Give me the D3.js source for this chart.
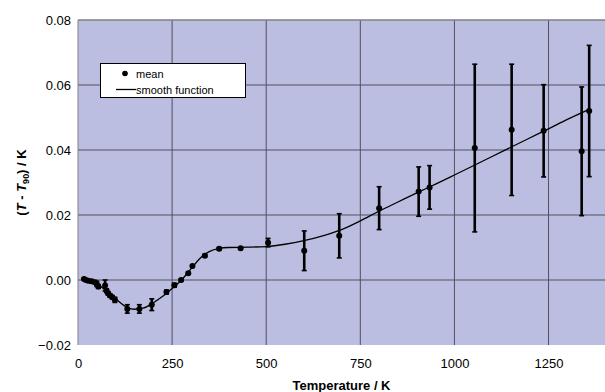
<!DOCTYPE html>
<html><head><meta charset="utf-8">
<script src="https://cdn.jsdelivr.net/npm/d3@7"></script>
<style>
body{margin:0;background:#fff;}
text{font-family:Arial,"Liberation Sans",sans-serif;}
</style></head>
<body>
<svg id="chart" width="605" height="392"></svg>
<script>
// mean points: temperature (K), deviation (K), uncertainty (K)
const meanT = [16, 21, 27, 36, 45, 50, 54, 72, 76, 80, 85, 91, 98, 131, 163, 196, 235, 256, 274, 293, 304, 337, 375, 432, 505, 601, 694, 800, 905, 934, 1054, 1152, 1237, 1338, 1358];
const meanV = [0.0003, 0.0000, -0.0002, -0.0004, -0.0007, -0.0012, -0.0020, -0.0017, -0.0033, -0.0041, -0.0048, -0.0053, -0.0061, -0.0089, -0.0089, -0.0076, -0.0037, -0.0016, 0.0000, 0.0021, 0.0043, 0.0075, 0.0096, 0.0098, 0.0115, 0.0090, 0.0136, 0.0221, 0.0272, 0.0285, 0.0406, 0.0462, 0.0459, 0.0396, 0.0520];
const meanErr = [0.0003, 0.0003, 0.0003, 0.0005, 0.0005, 0.0008, 0.0006, 0.0017, 0.0006, 0.0005, 0.0005, 0.0005, 0.0008, 0.0013, 0.0013, 0.0018, 0.0006, 0.0006, 0.0003, 0.0003, 0.0003, 0.0004, 0.0004, 0.0004, 0.0013, 0.0061, 0.0068, 0.0066, 0.0076, 0.0067, 0.0258, 0.0202, 0.0142, 0.0198, 0.0202];
// smooth function
const smoothT = [12, 50, 100, 130, 150, 175, 200, 225, 250, 275, 300, 325, 350, 375, 400, 450, 500, 550, 600, 650, 700, 750, 800, 850, 900, 950, 1000, 1100, 1200, 1250, 1300, 1358];
const smoothV = [0.0005, -0.0012, -0.0058, -0.0084, -0.0090, -0.0086, -0.0070, -0.0050, -0.0026, 0.0000, 0.0034, 0.0068, 0.0088, 0.0097, 0.0100, 0.0101, 0.0103, 0.0110, 0.0121, 0.0136, 0.0155, 0.0182, 0.0212, 0.0240, 0.0268, 0.0295, 0.0323, 0.0380, 0.0437, 0.0465, 0.0494, 0.0525];
const xTicks = [0, 250, 500, 750, 1000, 1250];
const yTicks = [-0.02, 0.00, 0.02, 0.04, 0.06, 0.08];

const svg = d3.select("#chart");
const L = 78, R = 605, T = 20, B = 345;
const x = d3.scaleLinear().domain([0, 1400]).range([L, R]);
const y = d3.scaleLinear().domain([-0.02, 0.08]).range([B, T]);

svg.append("rect").attr("x", L).attr("y", T).attr("width", R - L).attr("height", B - T)
  .attr("fill", "#bbbee0");

// grid
svg.append("g").selectAll("line").data(yTicks.slice(1)).join("line")
  .attr("x1", L).attr("x2", R).attr("y1", d => y(d)).attr("y2", d => y(d))
  .attr("stroke", "#50505e").attr("stroke-width", 1);
svg.append("g").selectAll("line").data(xTicks.slice(1)).join("line")
  .attr("y1", T).attr("y2", B).attr("x1", d => x(d)).attr("x2", d => x(d))
  .attr("stroke", "#50505e").attr("stroke-width", 1);
// border
svg.append("line").attr("x1", L).attr("x2", L).attr("y1", T).attr("y2", B).attr("stroke", "#808080");
svg.append("line").attr("x1", L).attr("x2", R).attr("y1", T).attr("y2", T).attr("stroke", "#999");

// axes labels using d3 axes
const xAxis = d3.axisBottom(x).tickValues(xTicks).tickSize(0).tickPadding(14).tickFormat(d3.format("d"));
const gx = svg.append("g").attr("transform", `translate(0,${B})`).call(xAxis);
gx.select(".domain").remove();
gx.selectAll("text").attr("font-size", 13).attr("fill", "#000").style("font-family", "Arial, 'Liberation Sans', sans-serif");

const yAxis = d3.axisLeft(y).tickValues(yTicks).tickSize(0).tickPadding(7).tickFormat(d3.format(".2f"));
const gy = svg.append("g").attr("transform", `translate(${L},0)`).call(yAxis);
gy.select(".domain").remove();
gy.selectAll("text").attr("font-size", 13).attr("fill", "#000").style("font-family", "Arial, 'Liberation Sans', sans-serif");

// smooth line
const pts = smoothT.map((t, i) => [t, smoothV[i]]);
svg.append("path").datum(pts)
  .attr("d", d3.line().x(d => x(d[0])).y(d => y(d[1])).curve(d3.curveMonotoneX))
  .attr("fill", "none").attr("stroke", "#000").attr("stroke-width", 1.3);

// error bars
const data = meanT.map((t, i) => ({t, v: meanV[i], e: meanErr[i]}));
const eb = svg.append("g");
eb.selectAll(".v").data(data).join("line")
  .attr("x1", d => x(d.t)).attr("x2", d => x(d.t))
  .attr("y1", d => y(d.v - d.e)).attr("y2", d => y(d.v + d.e))
  .attr("stroke", "#000").attr("stroke-width", 2.6);
["lo", "hi"].forEach(k => {
  eb.selectAll(".c" + k).data(data).join("line")
    .attr("x1", d => x(d.t) - 2.5).attr("x2", d => x(d.t) + 2.5)
    .attr("y1", d => y(k === "lo" ? d.v - d.e : d.v + d.e))
    .attr("y2", d => y(k === "lo" ? d.v - d.e : d.v + d.e))
    .attr("stroke", "#000").attr("stroke-width", 1.6);
});
svg.append("g").selectAll("circle").data(data).join("circle")
  .attr("cx", d => x(d.t)).attr("cy", d => y(d.v)).attr("r", 3).attr("fill", "#000");

// legend
const lg = svg.append("g");
lg.append("rect").attr("x", 100.5).attr("y", 63.5).attr("width", 145).attr("height", 34)
  .attr("fill", "#fff").attr("stroke", "#000").attr("stroke-width", 1);
lg.append("circle").attr("cx", 125).attr("cy", 73.5).attr("r", 2.8).attr("fill", "#000");
lg.append("text").attr("x", 136).attr("y", 77.5).attr("font-size", 11).text("mean");
lg.append("line").attr("x1", 116).attr("x2", 136).attr("y1", 89.5).attr("y2", 89.5).attr("stroke", "#000").attr("stroke-width", 1.3);
lg.append("text").attr("x", 136).attr("y", 93.5).attr("font-size", 11).text("smooth function");

// axis titles
svg.append("text").attr("x", (L + R) / 2).attr("y", 390).attr("text-anchor", "middle")
  .attr("font-size", 13).attr("font-weight", "bold").text("Temperature / K");
const yt = svg.append("text").attr("transform", `translate(26,${(T + B) / 2}) rotate(-90)`)
  .attr("text-anchor", "middle").attr("font-size", 13).attr("font-weight", "bold");
yt.append("tspan").text("(");
yt.append("tspan").attr("font-style", "italic").text("T");
yt.append("tspan").text(" - ");
yt.append("tspan").attr("font-style", "italic").text("T");
yt.append("tspan").attr("font-size", 9).attr("dy", 3).text("90");
yt.append("tspan").attr("dy", -3).text(") / K");
</script>
</body></html>
